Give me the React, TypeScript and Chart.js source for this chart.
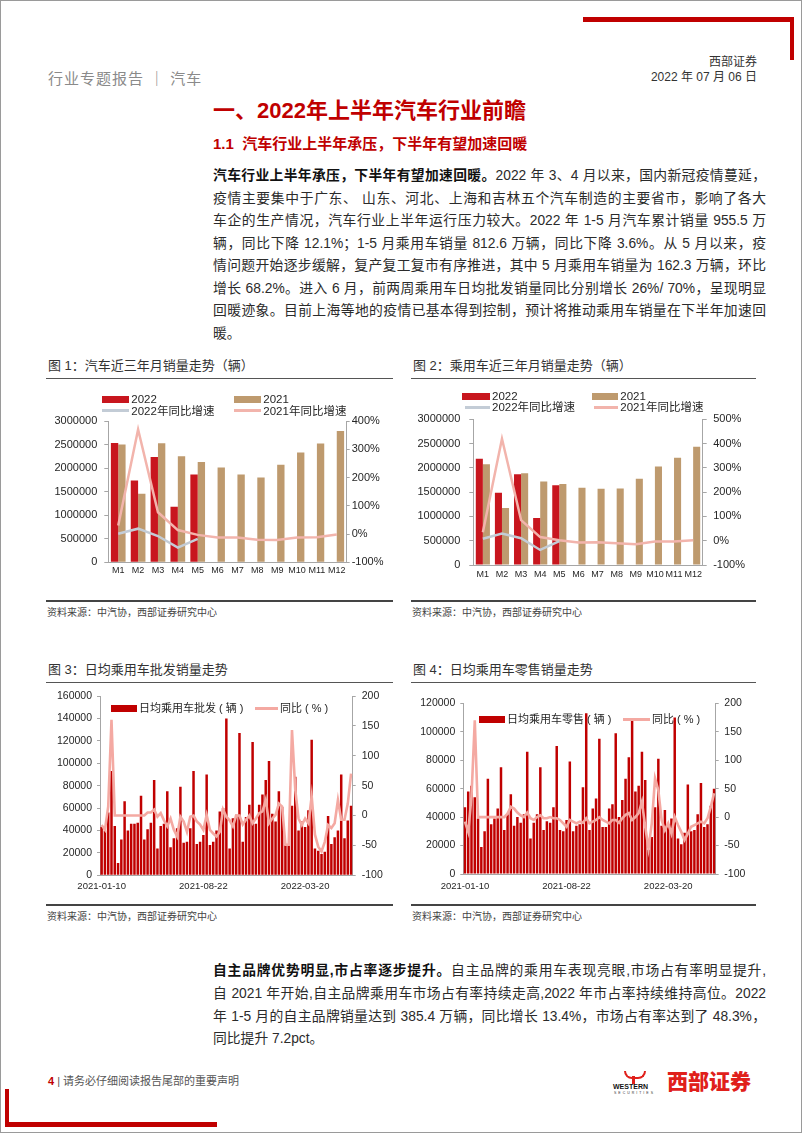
import React, { useEffect, useRef } from 'react';
import { Chart, registerables } from 'chart.js';

Chart.register(...registerables);

const FONT = '"Liberation Sans", "Noto Sans CJK SC", Arial, sans-serif';
const TXT = '#262626';
const AXIS = '#A6A6A6';
const RED1 = '#C8161E';
const BROWN = '#BE9A6E';
const GRAYLINE = '#C3CCD6';
const PINK1 = '#F2B4AC';
const RED2 = '#C00000';
const PINK2 = '#F4A9A2';

// ---------- Figure 1 / 2 data ----------
const MONTHS = ['M1', 'M2', 'M3', 'M4', 'M5', 'M6', 'M7', 'M8', 'M9', 'M10', 'M11', 'M12'];
const AUTO_2022 = [2531000, 1737000, 2234000, 1181000, 1862000];
const AUTO_2021 = [2503000, 1455000, 2526000, 2252000, 2128000, 2015000, 1864000, 1799000, 2069000, 2332000, 2522000, 2786000];
const AUTO_YOY_2022 = [1, 19, -7, -48, -17];
const AUTO_YOY_2021 = [30, 370, 77, 14, -3, -12, -12, -20, -21, -12, -11, -2];

const PASS_2022 = [2190000, 1490000, 1870000, 970000, 1640000];
const PASS_2021 = [2075000, 1172000, 1890000, 1720000, 1670000, 1590000, 1570000, 1575000, 1775000, 2030000, 2210000, 2435000];
const PASS_YOY_2022 = [8, 30, 10, -38, -2];
const PASS_YOY_2021 = [35, 420, 85, 15, 2, -7, -6, -10, -15, -3, -3, 2];

// ---------- Figure 3 / 4 data (weekly) ----------
const WEEKS = [
  '2021-01-10', '2021-01-17', '2021-01-24', '2021-01-31', '2021-02-07', '2021-02-21', '2021-02-28', '2021-03-07',
  '2021-03-14', '2021-03-21', '2021-03-28', '2021-04-04', '2021-04-11', '2021-04-18', '2021-04-25', '2021-05-02',
  '2021-05-09', '2021-05-16', '2021-05-23', '2021-05-30', '2021-06-06', '2021-06-13', '2021-06-20', '2021-06-27',
  '2021-07-04', '2021-07-11', '2021-07-18', '2021-07-25', '2021-08-01', '2021-08-08', '2021-08-15', '2021-08-22',
  '2021-08-29', '2021-09-05', '2021-09-12', '2021-09-19', '2021-09-26', '2021-09-30', '2021-10-10', '2021-10-17',
  '2021-10-24', '2021-10-31', '2021-11-07', '2021-11-14', '2021-11-21', '2021-11-28', '2021-12-05', '2021-12-12',
  '2021-12-19', '2021-12-26', '2021-12-31', '2022-01-02', '2022-01-09', '2022-01-16', '2022-01-23', '2022-01-30',
  '2022-02-06', '2022-02-13', '2022-02-20', '2022-02-27', '2022-03-06', '2022-03-13', '2022-03-20', '2022-03-27',
  '2022-04-03', '2022-04-10', '2022-04-17', '2022-04-24', '2022-05-01', '2022-05-08', '2022-05-15', '2022-05-22',
  '2022-05-29', '2022-06-05', '2022-06-12', '2022-06-19', '2022-06-26',
];
const WEEK_TICKS = [0, 31, 62];

const WHOLESALE = [
  43000, 40000, 56000, 93000, 44000, 11000, 32000, 66000, 40000, 46000, 46000, 47000, 71000, 32000, 41000, 47000,
  85000, 24000, 44000, 46000, 75000, 25000, 33000, 42000, 79000, 29000, 30000, 42000, 93000, 28000, 30000, 36000,
  90000, 27000, 30000, 40000, 57000, 60000, 140000, 24000, 51000, 54000, 127000, 30000, 52000, 63000, 119000, 46000,
  63000, 72000, 85000, 102000, 55000, 48000, 75000, 61000, 27000, 27000, 62000, 88000, 40000, 48000, 43000, 58000,
  121000, 24000, 22000, 19000, 21000, 53000, 28000, 34000, 40000, 90000, 33000, 49000, 62000,
];
const WHOLESALE_YOY = [
  -16, -24, 15, 160, 0, 0, 0, 0, 0, 0, 0, 0, 0, 0, 5, 5,
  10, -2, 4, -8, -18, -5, -24, -35, -2, -10, -27, -2, 0, -10, -15, -24,
  1, -24, -30, -35, -27, 10, -2, -8, -18, 0, 0, -15, -7, 0, -13, -5,
  4, 7, 26, -13, -5, 1, 20, 15, -49, -49, 143, 43, -5, -16, -5, -13,
  32, -32, -52, -60, -44, -16, -21, -13, 26, -7, -7, 20, 70,
];

const RETAIL = [
  47000, 58000, 62000, 54000, 39000, 19000, 30000, 67000, 35000, 39000, 46000, 75000, 31000, 42000, 56000, 34000,
  40000, 36000, 42000, 86000, 25000, 36000, 42000, 75000, 31000, 37000, 36000, 47000, 90000, 31000, 30000, 38000,
  79000, 30000, 34000, 35000, 61000, 113000, 31000, 46000, 53000, 95000, 33000, 33000, 46000, 49000, 99000, 40000,
  52000, 67000, 82000, 108000, 58000, 62000, 86000, 66000, 17000, 26000, 47000, 81000, 34000, 45000, 35000, 39000,
  110000, 25000, 21000, 29000, 63000, 30000, 31000, 42000, 64000, 33000, 35000, 48000, 60000,
];
const RETAIL_YOY = [
  -8, -26, 36, 170, 0, 0, 0, 0, 0, 0, 0, 0, 0, 6, 18, 15,
  8, 3, 0, 8, -2, -5, 0, 3, -2, -2, 0, -2, -2, -5, -11, -17,
  -5, -8, -11, -8, -10, -2, -11, -8, -5, 0, -5, -8, -11, -5, -5, -10,
  -2, 4, 7, -5, 0, 7, 27, -17, -55, -11, 68, 47, -5, -23, -11, -29,
  0, -14, -26, -40, -29, -17, -14, -11, -8, -11, -2, 18, 42,
];

// ---------- text ----------
const P1_LEAD = '汽车行业上半年承压，下半年有望加速回暖。';
const P1_LINES = [
  '2022 年 3、4 月以来，国内新冠疫情蔓延，',
  '疫情主要集中于广东、 山东、河北、上海和吉林五个汽车制造的主要省市，影响了各大',
  '车企的生产情况，汽车行业上半年运行压力较大。2022 年 1-5 月汽车累计销量 955.5 万',
  '辆，同比下降 12.1%；1-5 月乘用车销量 812.6 万辆，同比下降 3.6%。从 5 月以来，疫',
  '情问题开始逐步缓解，复产复工复市有序推进，其中 5 月乘用车销量为 162.3 万辆，环比',
  '增长 68.2%。进入 6 月，前两周乘用车日均批发销量同比分别增长 26%/ 70%，呈现明显',
  '回暖迹象。目前上海等地的疫情已基本得到控制，预计将推动乘用车销量在下半年加速回',
  '暖。',
];
const P1_Y = [176, 198.5, 221, 243.5, 266, 288.5, 311, 333.5];

const P2_LEAD = '自主品牌优势明显,市占率逐步提升。';
const P2_LINES = [
  '自主品牌的乘用车表现亮眼,市场占有率明显提升,',
  '自 2021 年开始,自主品牌乘用车市场占有率持续走高,2022 年市占率持续维持高位。2022',
  '年 1-5 月的自主品牌销量达到 385.4 万辆，同比增长 13.4%，市场占有率达到了 48.3%，',
  '同比提升 7.2pct。',
];
const P2_Y = [971, 994, 1016.5, 1039];

// ---------- helpers ----------
function yAxis(pos: string, min: number, max: number, step: number, width: number, tick: number, pad: number, size: number, fmt: (v: any) => string) {
  return {
    position: pos,
    min,
    max,
    afterFit: (s: any) => { s.width = width; },
    ticks: { stepSize: step, padding: pad, color: TXT, font: { family: FONT, size }, callback: fmt },
    grid: { display: true, drawOnChartArea: false, drawTicks: tick > 0, tickLength: tick, color: AXIS },
    border: { display: true, color: AXIS, width: 1 },
  };
}

function xAxis(height: number, pad: number, size: number, extra: any = {}) {
  return {
    afterFit: (s: any) => { s.height = height; },
    grid: { display: false, drawTicks: false },
    border: { display: true, color: AXIS, width: 1 },
    ticks: { padding: pad, color: TXT, font: { family: FONT, size }, maxRotation: 0, minRotation: 0, autoSkip: false, ...extra },
  };
}

function monthlyConfig(b22: number[], b21: number[], l22: number[], l21: number[], g: any) {
  return {
    type: 'bar',
    data: {
      labels: MONTHS,
      datasets: [
        { type: 'line', label: '2022年同比增速', data: l22, yAxisID: 'y1', borderColor: GRAYLINE, borderWidth: 2.5, pointRadius: 0, tension: 0, order: 0 },
        { type: 'line', label: '2021年同比增速', data: l21, yAxisID: 'y1', borderColor: PINK1, borderWidth: 2.5, pointRadius: 0, tension: 0, order: 0 },
        { type: 'bar', label: '2022', data: b22, yAxisID: 'y', backgroundColor: RED1, categoryPercentage: 0.74, barPercentage: 1, order: 1 },
        { type: 'bar', label: '2021', data: b21, yAxisID: 'y', backgroundColor: BROWN, categoryPercentage: 0.74, barPercentage: 1, order: 1 },
      ],
    },
    options: {
      responsive: false,
      animation: false,
      devicePixelRatio: 1,
      layout: { padding: { top: g.top, left: 0, right: 0, bottom: 0 } },
      plugins: { legend: { display: false }, tooltip: { enabled: false } },
      scales: {
        x: xAxis(g.xh, g.xpad, 9),
        y: yAxis('left', 0, 3000000, 500000, g.lw, 4, g.lpad, 11, (v: any) => String(v)),
        y1: yAxis('right', g.rmin, g.rmax, g.rstep, g.rw, g.rtick, g.rpad, 11, (v: any) => v + '%'),
      },
    },
  };
}

function dailyConfig(bars: number[], yoy: number[], barLabel: string, yMax: number, g: any) {
  return {
    type: 'bar',
    data: {
      labels: WEEKS,
      datasets: [
        { type: 'line', label: '同比（%）', data: yoy, yAxisID: 'y1', borderColor: PINK2, borderWidth: 2.6, pointRadius: 0, tension: 0, order: 0 },
        { type: 'bar', label: barLabel, data: bars, yAxisID: 'y', backgroundColor: RED2, categoryPercentage: 1, barPercentage: 0.76, order: 1 },
      ],
    },
    options: {
      responsive: false,
      animation: false,
      devicePixelRatio: 1,
      layout: { padding: { top: g.top, left: 0, right: 0, bottom: 0 } },
      plugins: { legend: { display: false }, tooltip: { enabled: false } },
      scales: {
        x: xAxis(g.xh, g.xpad, 9.5, {
          callback: (_v: any, i: number) => (WEEK_TICKS.includes(i) ? WEEKS[i] : null),
        }),
        y: yAxis('left', 0, yMax, 20000, g.lw, 3, 5, 10.5, (v: any) => String(v)),
        y1: yAxis('right', -100, 200, 50, g.rw, 3, g.rpad, 10.5, (v: any) => String(v)),
      },
    },
  };
}

function ChartCanvas({ left, top, width, height, config }: any) {
  const ref = useRef<HTMLCanvasElement>(null);
  useEffect(() => {
    const chart = new Chart(ref.current as HTMLCanvasElement, config);
    return () => chart.destroy();
  }, []);
  return (
    <canvas
      ref={ref}
      width={width}
      height={height}
      style={{ position: 'absolute', left, top, width, height, display: 'block' }}
    />
  );
}

function T({ x, y, size, children, color = '#333', weight = 400, lh = 20, right, w, justify, style }: any) {
  const s: any = {
    position: 'absolute',
    top: y - lh / 2,
    lineHeight: lh + 'px',
    height: lh,
    fontSize: size,
    fontFamily: FONT,
    color,
    fontWeight: weight,
    whiteSpace: 'nowrap',
    ...style,
  };
  if (right !== undefined) { s.right = 802 - right; s.textAlign = 'right'; } else { s.left = x; }
  if (w) { s.width = w; }
  if (justify) { s.textAlign = 'justify'; s.textAlignLast = 'justify'; }
  return <div style={s}>{children}</div>;
}

function Box({ x, y, w, h, c }: any) {
  return <div style={{ position: 'absolute', left: x, top: y, width: w, height: h, background: c }} />;
}

function Legend({ x, y, w, kind, color, label, size = 11.5, gap = 2 }: any) {
  const h = kind === 'box' ? 7 : 2.6;
  return (
    <>
      <Box x={x} y={y - h / 2} w={w} h={h} c={color} />
      <T x={x + w + gap} y={y} size={size} lh={14} color={TXT}>{label}</T>
    </>
  );
}

function FigFrame({ x, w, titleY, lineY, bottomY, srcY, title }: any) {
  return (
    <>
      <T x={x + 2} y={titleY} size={13} lh={18} color="#333">{title}</T>
      <Box x={x} y={lineY} w={w} h={1} c="#555" />
      <Box x={x} y={bottomY} w={w} h={1.5} c="#444" />
      <T x={x + 1} y={srcY} size={10} lh={14} color="#444">资料来源：中汽协，西部证券研究中心</T>
    </>
  );
}

export default function App() {
  const g1 = { top: 36, xh: 22.7, xpad: 3, lw: 63.3, lpad: 7, rw: 48.3, rtick: 3, rpad: 2, rmin: -100, rmax: 400, rstep: 50 };
  const g2 = { top: 34.3, xh: 20, xpad: 4.6, lw: 63.3, lpad: 9, rw: 57.3, rtick: 4, rpad: 6.5, rmin: -100, rmax: 500, rstep: 100 };
  const g3 = { top: 16, xh: 19.7, xpad: 5.7, lw: 55, rw: 42.3, rpad: 6 };
  const g4 = { top: 23.3, xh: 21, xpad: 7, lw: 53.3, rw: 44.3, rpad: 5.6 };

  const cfg1 = monthlyConfig(AUTO_2022, AUTO_2021, AUTO_YOY_2022, AUTO_YOY_2021, g1);
  const cfg2 = monthlyConfig(PASS_2022, PASS_2021, PASS_YOY_2022, PASS_YOY_2021, g2);
  const cfg3 = dailyConfig(WHOLESALE, WHOLESALE_YOY, '日均乘用车批发（辆）', 160000, g3);
  const cfg4 = dailyConfig(RETAIL, RETAIL_YOY, '日均乘用车零售（辆）', 120000, g4);

  return (
    <div style={{ position: 'absolute', left: 0, top: 0, width: 802, height: 1133, background: '#fff', overflow: 'hidden' }}>
      {/* header */}
      <Box x={583} y={17} w={210} h={5} c="#C00000" />
      <Box x={790} y={17} w={4} h={43} c="#C00000" />
      <T right={757} y={62} size={12} lh={16} color="#333">西部证券</T>
      <T right={757} y={77} size={12} lh={16} color="#333">2022 年 07 月 06 日</T>
      <T x={48} y={79} size={15} lh={20} color="#8a8a8a" style={{ letterSpacing: 1 }}>行业专题报告 ｜ 汽车</T>

      {/* titles */}
      <T x={213} y={111} size={22} lh={28} color="#C00000" weight={700}>一、2022年上半年汽车行业前瞻</T>
      <T x={213} y={144} size={15} lh={20} color="#C00000" weight={700}>1.1&nbsp; 汽车行业上半年承压，下半年有望加速回暖</T>

      {/* paragraph 1 */}
      {P1_LINES.map((line, i) => (
        <T key={'p1' + i} x={213} y={P1_Y[i]} size={13.8} lh={20} w={i === P1_LINES.length - 1 ? undefined : 553} justify={i !== P1_LINES.length - 1} color="#2b2b2b">
          {i === 0 ? <span style={{ fontWeight: 700, color: '#111' }}>{P1_LEAD}</span> : null}
          {line}
        </T>
      ))}

      {/* figure frames */}
      <FigFrame x={46} w={347} titleY={366} lineY={378} bottomY={600} srcY={613} title="图 1：汽车近三年月销量走势（辆）" />
      <FigFrame x={411} w={345} titleY={366} lineY={378} bottomY={600} srcY={613} title="图 2：乘用车近三年月销量走势（辆）" />
      <FigFrame x={46} w={347} titleY={670} lineY={682} bottomY={904} srcY={917} title="图 3：日均乘用车批发销量走势" />
      <FigFrame x={411} w={345} titleY={670} lineY={682} bottomY={904} srcY={917} title="图 4：日均乘用车零售销量走势" />

      {/* charts */}
      <ChartCanvas left={45} top={385} width={350} height={200} config={cfg1} />
      <ChartCanvas left={410} top={385} width={350} height={200} config={cfg2} />
      <ChartCanvas left={45} top={680} width={350} height={215} config={cfg3} />
      <ChartCanvas left={410} top={680} width={350} height={215} config={cfg4} />

      {/* legends fig1 */}
      <Legend x={102.3} y={399.3} w={27} kind="box" color={RED1} label="2022" />
      <Legend x={234} y={399.3} w={27.3} kind="box" color={BROWN} label="2021" />
      <Legend x={102.3} y={410.7} w={27} kind="line" color={GRAYLINE} label="2022年同比增速" />
      <Legend x={234} y={410.7} w={27.3} kind="line" color={PINK1} label="2021年同比增速" />
      {/* legends fig2 */}
      <Legend x={462.3} y={396} w={27.7} kind="box" color={RED1} label="2022" />
      <Legend x={591.7} y={396} w={26.6} kind="box" color={BROWN} label="2021" />
      <Legend x={465} y={407.3} w={25} kind="line" color={GRAYLINE} label="2022年同比增速" />
      <Legend x={594} y={407.3} w={24.3} kind="line" color={PINK1} label="2021年同比增速" />
      {/* legends fig3 */}
      <Legend x={111} y={708.3} w={26} kind="box" color={RED2} label="日均乘用车批发 ( 辆 )" size={11} />
      <Legend x={255} y={708.3} w={23} kind="line" color={PINK2} label="同比 ( % )" size={11} />
      {/* legends fig4 */}
      <Legend x={479} y={719.3} w={26} kind="box" color={RED2} label="日均乘用车零售 ( 辆 )" size={11} />
      <Legend x={623.3} y={719.3} w={26.7} kind="line" color={PINK2} label="同比 ( % )" size={11} />

      {/* paragraph 2 */}
      {P2_LINES.map((line, i) => (
        <T key={'p2' + i} x={213} y={P2_Y[i]} size={13.8} lh={20} w={i === P2_LINES.length - 1 ? undefined : 553} justify={i !== P2_LINES.length - 1} color="#2b2b2b">
          {i === 0 ? <span style={{ fontWeight: 700, color: '#111' }}>{P2_LEAD}</span> : null}
          {line}
        </T>
      ))}

      {/* footer */}
      <T x={48} y={1081} size={11} lh={14} color="#555">
        <span style={{ color: '#C00000', fontWeight: 700 }}>4</span>
        <span> | 请务必仔细阅读报告尾部的重要声明</span>
      </T>
      <div style={{ position: 'absolute', left: 624, top: 1071, width: 18, height: 6, border: '2.5px solid #E0201B', borderTop: 'none', borderRadius: '0 0 10px 10px' }} />
      <Box x={631.5} y={1076} w={3} h={8} c="#E0201B" />
      <T x={613} y={1087} size={7} lh={8} color="#111" weight={700}>WESTERN</T>
      <T x={614} y={1093} size={3.5} lh={4} color="#333" style={{ letterSpacing: 2 }}>SECURITIES</T>
      <T x={667} y={1082} size={21} lh={26} color="#E0201B" weight={900} style={{ letterSpacing: 0 }}>西部证券</T>

      <Box x={5} y={1089} w={4} h={38} c="#C00000" />
      <Box x={5} y={1122} w={212} h={5} c="#C00000" />

      {/* page border */}
      <div style={{ position: 'absolute', left: 0, top: 0, width: 802, height: 1133, boxSizing: 'border-box', border: '1px solid #9a9a9a', pointerEvents: 'none' }} />
    </div>
  );
}
